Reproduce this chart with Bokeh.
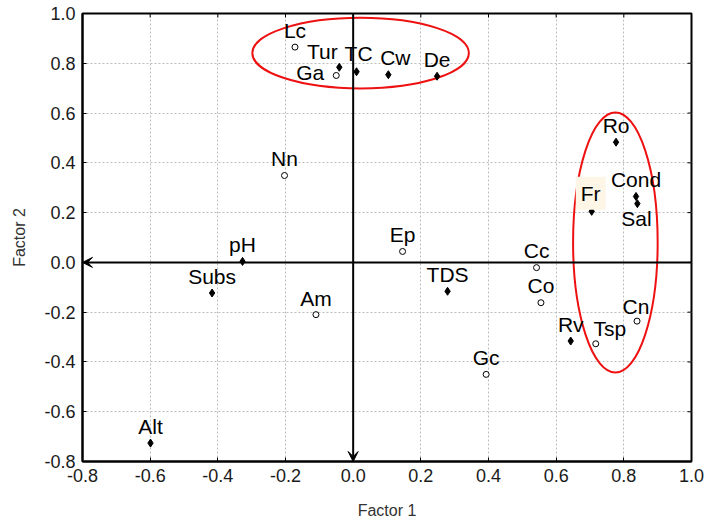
from bokeh.plotting import figure
from bokeh.models import (FixedTicker, NumeralTickFormatter, Arrow,
                          VeeHead, Range1d, Label)
from bokeh.core.properties import value
from bokeh.embed import file_html
from bokeh.resources import INLINE

# ---------------- data ----------------
names = ["Lc", "Tur", "Ga", "TC", "Cw", "De", "Nn", "pH", "Ep", "Subs", "Am", "TDS",
         "Ro", "Cond", "Sal", "Fr", "Cn", "Tsp", "Rv", "Cc", "Co", "Gc", "Alt"]
factor1 = [-0.172, -0.041, -0.050, 0.010, 0.104, 0.248, -0.203, -0.327, 0.146, -0.417,
           -0.110, 0.279, 0.777, 0.836, 0.840, 0.705, 0.839, 0.717, 0.643, 0.542,
           0.555, 0.393, -0.599]
factor2 = [0.865, 0.784, 0.751, 0.766, 0.754, 0.748, 0.349, 0.004, 0.044, -0.123,
           -0.210, -0.116, 0.483, 0.265, 0.236, 0.205, -0.236, -0.327, -0.316, -0.021,
           -0.162, -0.450, -0.726]
kind = ["open", "filled", "open", "filled", "filled", "filled", "open", "filled", "open",
        "filled", "open", "filled", "filled", "filled", "filled", "filled", "open", "open",
        "filled", "open", "open", "open", "filled"]

# highlighted groups (ellipses)
group_x = [0.022, 0.775]
group_y = [0.841, 0.080]
group_w = [0.640, 0.250]
group_h = [0.284, 1.044]

ticks = [-0.8, -0.6, -0.4, -0.2, 0.0, 0.2, 0.4, 0.6, 0.8, 1.0]

# label placement (screen px, relative to point; +y = down)
default_off = (0, -17)
label_off = {"Tur": (-17, -16), "Ga": (-26, -3), "TC": (2, -18), "Cw": (7, -17),
             "Sal": (-1, 15), "Tsp": (14, -15), "Am": (0, -16), "Cn": (-1, -15)}
fr_off = (-1, 18)   # Label offsets (+y = up)

FONT = "Liberation Sans"
XMIN, XMAX, YMIN, YMAX = -0.8, 1.0, -0.8, 1.0

p = figure(width=706, height=523, output_backend="svg", toolbar_location=None,
           x_range=Range1d(XMIN, XMAX), y_range=Range1d(YMIN, YMAX),
           min_border_left=82, min_border_right=15, min_border_top=13,
           min_border_bottom=62, background_fill_color="white",
           border_fill_color="white")

p.outline_line_color = "black"
p.outline_line_width = 2

# grid
for g in (p.xgrid, p.ygrid):
    g.ticker = FixedTicker(ticks=ticks)
    g.grid_line_color = "#bdbdbd"
    g.grid_line_dash = "2 2"
    g.grid_line_width = 1

# main axes
for ax in (p.xaxis[0], p.yaxis[0]):
    ax.ticker = FixedTicker(ticks=ticks)
    ax.formatter = NumeralTickFormatter(format="0.0")
    ax.major_tick_in = 4
    ax.major_tick_out = 0
    ax.minor_tick_line_color = None
    ax.axis_line_color = "black"
    ax.axis_line_width = 2
    ax.major_tick_line_width = 1
    ax.major_label_text_font = FONT
    ax.major_label_text_font_size = "18px"
    ax.major_label_text_color = "#1a1a1a"
    ax.axis_label_text_font = FONT
    ax.axis_label_text_font_size = "16px"
    ax.axis_label_text_font_style = "normal"
    ax.axis_label_text_color = "#333333"

p.xaxis[0].axis_label = "Factor 1"
p.yaxis[0].axis_label = "Factor 2"
p.xaxis[0].major_label_standoff = 7
p.yaxis[0].major_label_standoff = 7
p.xaxis[0].axis_label_standoff = 17
p.yaxis[0].axis_label_standoff = 13

# inward ticks on top and right frame edges
tlx = 4 / 610 * (XMAX - XMIN)
tly = 4 / 448 * (YMAX - YMIN)
p.segment(x0=ticks, y0=[YMAX] * len(ticks), x1=ticks, y1=[YMAX - tly] * len(ticks),
          line_color="black", line_width=1)
p.segment(x0=[XMAX] * len(ticks), y0=ticks, x1=[XMAX - tlx] * len(ticks), y1=ticks,
          line_color="black", line_width=1)

# axis arrows through origin
p.add_layout(Arrow(x_start=XMAX, y_start=0, x_end=XMIN, y_end=0, line_width=2,
                   line_color="black",
                   end=VeeHead(size=10, fill_color="black", line_color="black")))
p.add_layout(Arrow(x_start=0, y_start=YMAX, x_end=0, y_end=YMIN, line_width=2,
                   line_color="black",
                   end=VeeHead(size=10, fill_color="black", line_color="black")))

# ellipses
p.ellipse(x=group_x, y=group_y, width=group_w, height=group_h, fill_alpha=0,
          line_color="#ee1111", line_width=2)

# points
open_idx = [i for i, k in enumerate(kind) if k == "open"]
fill_idx = [i for i, k in enumerate(kind) if k == "filled"]
p.scatter([factor1[i] for i in fill_idx], [factor2[i] for i in fill_idx],
          marker="diamond", size=8, fill_color="black", line_color="black")
p.scatter([factor1[i] for i in open_idx], [factor2[i] for i in open_idx],
          marker="circle", size=6, fill_color="white", line_color="black",
          line_width=1)

# labels
lx, ly, lt, dx, dy = [], [], [], [], []
for n, a, b in zip(names, factor1, factor2):
    if n == "Fr":
        continue
    ox, oy = label_off.get(n, default_off)
    lx.append(a); ly.append(b); lt.append(n); dx.append(ox); dy.append(oy)
p.text(x=lx, y=ly, text=lt, x_offset=dx, y_offset=dy, text_align="center",
       text_baseline="alphabetic", text_font=value(FONT), text_font_size="21px",
       text_color="black")

i = names.index("Fr")
p.add_layout(Label(x=factor1[i], y=factor2[i], x_offset=fr_off[0], y_offset=fr_off[1],
                   text="Fr", text_align="center", text_baseline="alphabetic",
                   text_font=FONT, text_font_size="21px", text_color="black",
                   background_fill_color="#fdf6e6", padding=5))

open("out.html", "w").write(file_html(p, INLINE))
